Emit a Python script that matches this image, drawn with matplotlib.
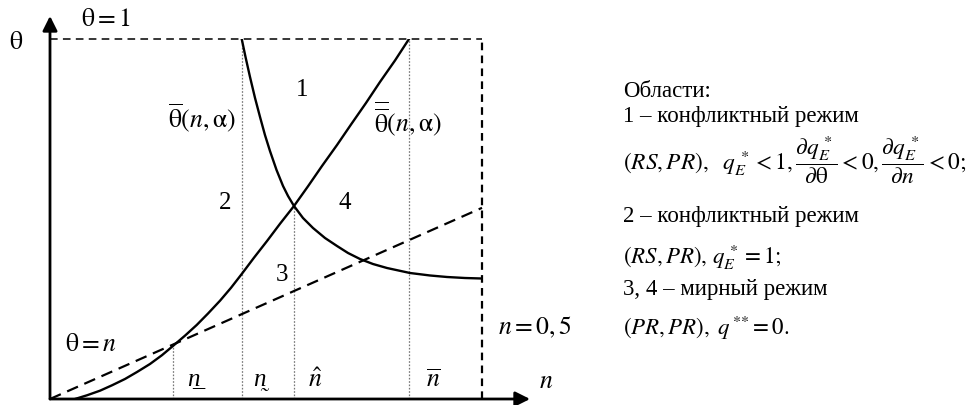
import matplotlib
matplotlib.use("Agg")
import matplotlib.pyplot as plt

plt.rcParams['font.family'] = ['Liberation Serif', 'DejaVu Serif']
plt.rcParams['mathtext.fontset'] = 'stix'
plt.rcParams['lines.scale_dashes'] = False

# границы по n и характерные точки
n_max = 0.5
n_under = 0.1427   # n с чертой снизу
n_tilde = 0.2219   # n с тильдой снизу
n_hat = 0.2824     # пересечение кривых
n_bar = 0.4155     # n с чертой сверху

# прямая theta = n (в масштабе рисунка)
line_n = [0.0, 0.5]
line_theta = [0.0, 0.531]

# возрастающая кривая (двойная черта)
rise_n = [0.0289, 0.0428, 0.0579, 0.0718, 0.0868, 0.1007, 0.1157, 0.1296,
          0.1427, 0.1563, 0.1698, 0.1829, 0.1968, 0.2095, 0.2219, 0.2361,
          0.2512, 0.2662, 0.2824, 0.2986, 0.3148, 0.3322, 0.3484, 0.3657,
          0.3819, 0.3993, 0.4155]
rise_theta = [0.0000, 0.0103, 0.0231, 0.0381, 0.0556, 0.0750, 0.0972, 0.1217,
              0.1481, 0.1761, 0.2056, 0.2375, 0.2731, 0.3089, 0.3472, 0.3925,
              0.4389, 0.4867, 0.5361, 0.5908, 0.6472, 0.7056, 0.7625, 0.8222,
              0.8806, 0.9403, 1.0000]

# убывающая кривая (одна черта)
fall_n = [0.2219, 0.2263, 0.2315, 0.2373, 0.2431, 0.2488, 0.2546, 0.2622,
          0.2697, 0.2755, 0.2824, 0.2928, 0.3044, 0.3183, 0.3322, 0.3449,
          0.3588, 0.3738, 0.3900, 0.4167, 0.4398, 0.4595, 0.4803, 0.5000]
fall_theta = [1.0000, 0.9500, 0.8944, 0.8361, 0.7833, 0.7333, 0.6889, 0.6361,
              0.5917, 0.5639, 0.5361, 0.5028, 0.4750, 0.4472, 0.4250, 0.4056,
              0.3889, 0.3750, 0.3639, 0.3500, 0.3431, 0.3389, 0.3361, 0.3347]

# вертикальные пунктиры: (n, верхний конец)
guides_n = [n_under, n_tilde, n_hat, n_bar]
guides_top = [0.148, 1.0, 0.536, 1.0]

legend_lines = [
    "Области:",
    "1 – конфликтный режим",
    r"$(RS,PR),\ \ q_E^{\,*} < 1, \dfrac{\partial q_E^{\,*}}{\partial\mathrm{\theta}} < 0, \dfrac{\partial q_E^{\,*}}{\partial n} < 0;$",
    "2 – конфликтный режим",
    r"$(RS,PR),\, q_E^{\,*} = 1;$",
    "3, 4 – мирный режим",
    r"$(PR,PR),\ q^{\,{*}{*}} = 0.$",
]
legend_y = [92, 117, 160, 217, 257, 290, 328]
legend_fs = [16.5, 16.5, 16.8, 16.5, 16.5, 16.5, 16.5]

W, H = 972, 406
fig = plt.figure(figsize=(W / 100, H / 100), dpi=100)
ax = fig.add_axes([50 / W, 6 / H, 432 / W, 360 / H])
ax.set_xlim(0, n_max)
ax.set_ylim(0, 1)
ax.axis('off')

fs = 18.5

# оси со стрелками
arrow = dict(arrowstyle='-|>', lw=2.0, color='black', mutation_scale=22,
             shrinkA=0, shrinkB=0)
ax.annotate('', xy=(0, 1.064), xytext=(0, 0), arrowprops=arrow,
            annotation_clip=False)
ax.annotate('', xy=(0.5556, 0), xytext=(0, 0), arrowprops=arrow,
            annotation_clip=False)

# рамка theta = 1 и n = 0,5
ax.plot([0, n_max], [1, 1], color='black', lw=1.1, dashes=(5.5, 3.8),
        clip_on=False)
ax.plot([n_max, n_max], [0, 1], color='black', lw=1.6, dashes=(5.5, 3.8),
        clip_on=False)

# вертикальные пунктиры
for gx, gt in zip(guides_n, guides_top):
    ax.plot([gx, gx], [0, gt], color='#777777', lw=0.9, dashes=(1.2, 1.2))

# прямая theta = n
ax.plot(line_n, line_theta, color='black', lw=1.6, dashes=(8.5, 5.0),
        clip_on=False)

# кривые
ax.plot(rise_n, rise_theta, color='black', lw=1.7, solid_joinstyle='round')
ax.plot(fall_n, fall_theta, color='black', lw=1.7, solid_joinstyle='round')

# подписи на графике
ax.text(-0.0394, 0.992, r'$\mathrm{\theta}$', fontsize=fs, ha='center', va='center')
ax.text(0.0648, 1.056, r'$\mathrm{\theta} = 1$', fontsize=fs, ha='center', va='center')
ax.text(0.0475, 0.153, r'$\mathrm{\theta} = n$', fontsize=fs, ha='center', va='center')
ax.text(0.561, 0.203, r'$n = 0,5$', fontsize=fs, ha='center', va='center')
ax.text(0.574, 0.05, r'$n$', fontsize=fs, ha='center', va='center')

ax.text(0.176, 0.783, r'$\overline{\mathrm{\theta}}(n,\mathrm{\alpha})$', fontsize=fs,
        ha='center', va='center')
ax.text(0.4144, 0.783, r'$\overline{\overline{\mathrm{\theta}}}(n,\mathrm{\alpha})$',
        fontsize=fs, ha='center', va='center')

ax.text(0.2917, 0.861, '1', fontsize=18, ha='center', va='center')
ax.text(0.2025, 0.547, '2', fontsize=18, ha='center', va='center')
ax.text(0.2685, 0.347, '3', fontsize=18, ha='center', va='center')
ax.text(0.3414, 0.547, '4', fontsize=18, ha='center', va='center')

# метки на оси n
ax.text(0.1655, 0.056, 'n\u0332', fontsize=18, style='italic', ha='center', va='center')
ax.text(0.2425, 0.056, 'n\u0330', fontsize=18, style='italic', ha='center', va='center')
ax.text(0.3067, 0.056, r'$\hat{n}$', fontsize=fs, ha='center', va='center')
ax.text(0.4433, 0.056, r'$\overline{n}$', fontsize=fs, ha='center', va='center')

# пояснения справа
for txt, yy, lf in zip(legend_lines, legend_y, legend_fs):
    fig.text(623 / W, 1 - yy / H, txt, fontsize=lf, ha='left', va='center')

fig.savefig('out.png', dpi=100)
